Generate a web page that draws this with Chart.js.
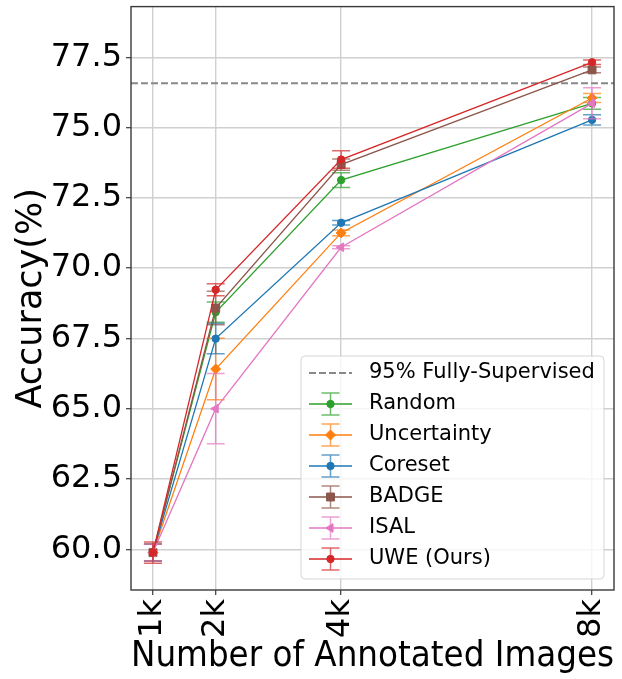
<!DOCTYPE html>
<html>
<head>
<meta charset="utf-8">
<script src="https://cdn.jsdelivr.net/npm/chart.js@4.4.1/dist/chart.umd.min.js"></script>
<style>
  html, body { margin: 0; padding: 0; background: #fff; }
  #wrap { width: 622px; height: 679px; }
</style>
</head>
<body>
<div id="wrap"><canvas id="chart" width="622" height="679"></canvas></div>
<script>
// Annotation budgets (number of labelled images) and their tick labels
const budgets = [1000, 2000, 4000, 8000];
const budgetLabels = ['1k', '2k', '4k', '8k'];
const accuracyTicks = [60, 62.5, 65, 67.5, 70, 72.5, 75, 77.5];

// 95% of the fully-supervised accuracy
const fullySupervised95 = 76.57;

// Mean accuracy (%) and standard deviation per method
const randomAcc = [59.88, 68.43, 73.13, 75.86];
const randomStd = [0.30, 0.36, 0.26, 0.21];
const uncertaintyAcc = [59.88, 66.41, 71.25, 76.05];
const uncertaintyStd = [0.30, 1.09, 0.10, 0.16];
const coresetAcc = [59.88, 67.49, 71.61, 75.27];
const coresetStd = [0.30, 0.54, 0.08, 0.18];
const badgeAcc = [59.88, 68.58, 73.68, 77.05];
const badgeStd = [0.30, 0.60, 0.20, 0.10];
const isalAcc = [59.88, 65.00, 70.74, 75.86];
const isalStd = [0.30, 1.25, 0.05, 0.55];
const uweAcc = [59.88, 69.23, 73.86, 77.32];
const uweStd = [0.38, 0.21, 0.31, 0.08];

const FONT = "'DejaVu Sans', sans-serif";

function hexA(hex, a) {
  const n = parseInt(hex.slice(1), 16);
  return `rgba(${(n >> 16) & 255},${(n >> 8) & 255},${n & 255},${a})`;
}

function methodSet(label, acc, std, color, style, radius, rotation, order) {
  return {
    label,
    data: budgets.map((b, i) => ({ x: b, y: acc[i] })),
    errors: std,
    borderColor: color,
    backgroundColor: color,
    borderWidth: 1.3,
    pointStyle: style,
    pointRadius: radius,
    pointHoverRadius: radius,
    pointRotation: rotation,
    pointBorderWidth: 1,
    pointBackgroundColor: color,
    pointBorderColor: color,
    tension: 0,
    fill: false,
    order
  };
}

const datasets = [
  {
    label: '95% Fully-Supervised',
    data: [{ x: 650, y: fullySupervised95 }, { x: 8350, y: fullySupervised95 }],
    borderColor: '#888888',
    borderWidth: 2,
    borderDash: [7, 3],
    pointRadius: 0,
    fill: false,
    isReference: true,
    order: 7
  },
  methodSet('Random', randomAcc, randomStd, '#2ca02c', 'circle', 3.7, 0, 5),
  methodSet('Uncertainty', uncertaintyAcc, uncertaintyStd, '#ff7f0e', 'rectRot', 5, 0, 4),
  methodSet('Coreset', coresetAcc, coresetStd, '#1f77b4', 'circle', 3.7, 0, 3),
  methodSet('BADGE', badgeAcc, badgeStd, '#8c564b', 'rect', 5.6, 0, 2),
  methodSet('ISAL', isalAcc, isalStd, '#e377c2', 'triangle', 5, -90, 1),
  methodSet('UWE (Ours)', uweAcc, uweStd, '#d62728', 'circle', 3.7, 0, 0)
];

const CAP = 9;

// Vertical error bars with caps, drawn beneath each series' own line
const errorBars = {
  id: 'errorBars',
  beforeDatasetDraw(chart, args) {
    const ds = chart.data.datasets[args.index];
    if (!ds.errors) return;
    const { ctx, scales: { x, y } } = chart;
    ctx.save();
    ctx.strokeStyle = hexA(ds.borderColor, 0.7);
    ctx.lineWidth = 1.5;
    ds.data.forEach((p, i) => {
      const px = x.getPixelForValue(p.x);
      const hi = y.getPixelForValue(p.y + ds.errors[i]);
      const lo = y.getPixelForValue(p.y - ds.errors[i]);
      ctx.beginPath();
      ctx.moveTo(px, hi); ctx.lineTo(px, lo);
      ctx.moveTo(px - CAP, hi); ctx.lineTo(px + CAP, hi);
      ctx.moveTo(px - CAP, lo); ctx.lineTo(px + CAP, lo);
      ctx.stroke();
    });
    ctx.restore();
  }
};

// Axes frame and the legend box with error-bar handles
const frameAndLegend = {
  id: 'frameAndLegend',
  afterDraw(chart) {
    const { ctx, chartArea: a } = chart;
    ctx.save();
    ctx.strokeStyle = '#3a3a3a';
    ctx.lineWidth = 1.4;
    ctx.strokeRect(a.left, a.top, a.right - a.left, a.bottom - a.top);

    // legend
    const bx = 301, by = 356, bw = 303, bh = 223, r = 4;
    ctx.beginPath();
    ctx.roundRect(bx, by, bw, bh, r);
    ctx.fillStyle = 'rgba(255,255,255,0.8)';
    ctx.fill();
    ctx.strokeStyle = 'rgba(204,204,204,0.8)';
    ctx.lineWidth = 1;
    ctx.stroke();

    const x0 = 309, x1 = 352, xc = 330.5, tx = 369;
    const rowY0 = 373, rowStep = 31;
    ctx.font = `21px ${FONT}`;
    ctx.textBaseline = 'middle';
    ctx.textAlign = 'left';
    chart.data.datasets.forEach((ds, i) => {
      const yy = rowY0 + i * rowStep;
      if (ds.isReference) {
        ctx.save();
        ctx.strokeStyle = ds.borderColor;
        ctx.lineWidth = 2;
        ctx.setLineDash([7, 3]);
        ctx.beginPath(); ctx.moveTo(x0, yy); ctx.lineTo(x1, yy); ctx.stroke();
        ctx.restore();
      } else {
        ctx.strokeStyle = hexA(ds.borderColor, 0.7);
        ctx.lineWidth = 1.5;
        ctx.beginPath();
        ctx.moveTo(xc, yy - 11); ctx.lineTo(xc, yy + 11);
        ctx.moveTo(xc - CAP, yy - 11); ctx.lineTo(xc + CAP, yy - 11);
        ctx.moveTo(xc - CAP, yy + 11); ctx.lineTo(xc + CAP, yy + 11);
        ctx.stroke();
        ctx.strokeStyle = ds.borderColor;
        ctx.lineWidth = 1.3;
        ctx.beginPath(); ctx.moveTo(x0, yy); ctx.lineTo(x1, yy); ctx.stroke();
        ctx.fillStyle = ds.borderColor;
        ctx.lineWidth = 1;
        Chart.helpers.drawPoint(ctx, {
          pointStyle: ds.pointStyle, radius: ds.pointRadius,
          rotation: ds.pointRotation, borderWidth: 1
        }, xc, yy);
      }
      ctx.fillStyle = '#000';
      ctx.fillText(ds.label, tx, yy);
    });
    ctx.restore();
  }
};

new Chart(document.getElementById('chart'), {
  type: 'line',
  data: { datasets },
  options: {
    responsive: false,
    animation: false,
    events: [],
    layout: { padding: { top: 2, right: 8, left: 0, bottom: 0 } },
    plugins: { legend: { display: false }, tooltip: { enabled: false } },
    scales: {
      x: {
        type: 'linear',
        min: 650,
        max: 8350,
        afterBuildTicks: s => { s.ticks = budgets.map(v => ({ value: v })); },
        afterFit: s => { s.height = 89; s.paddingLeft = 0; s.paddingRight = 0; },
        ticks: {
          callback: v => budgetLabels[budgets.indexOf(v)],
          minRotation: 90,
          maxRotation: 90,
          autoSkip: false,
          padding: 4,
          color: '#000',
          font: { family: FONT, size: 32 }
        },
        grid: { color: '#d0d0d0', lineWidth: 1.4, tickLength: 5, tickColor: '#3a3a3a', tickWidth: 1.2 },
        border: { display: false },
        title: {
          display: true,
          text: 'Number of Annotated Images',
          color: '#000',
          font: { family: FONT, size: 35.3 },
          padding: { top: 0, bottom: 1 }
        }
      },
      y: {
        min: 58.55,
        max: 79.3,
        afterBuildTicks: s => { s.ticks = accuracyTicks.map(v => ({ value: v })); },
        afterFit: s => { s.width = 131; s.paddingTop = 0; s.paddingBottom = 0; },
        ticks: {
          callback: v => v.toFixed(1),
          padding: 4,
          color: '#000',
          font: { family: FONT, size: 32 }
        },
        grid: { color: '#d0d0d0', lineWidth: 1.4, tickLength: 5, tickColor: '#3a3a3a', tickWidth: 1.2 },
        border: { display: false },
        title: {
          display: true,
          text: 'Accuracy(%)',
          color: '#000',
          font: { family: FONT, size: 35 },
          padding: { top: 11, bottom: 0 }
        }
      }
    }
  },
  plugins: [errorBars, frameAndLegend]
});
</script>
</body>
</html>
